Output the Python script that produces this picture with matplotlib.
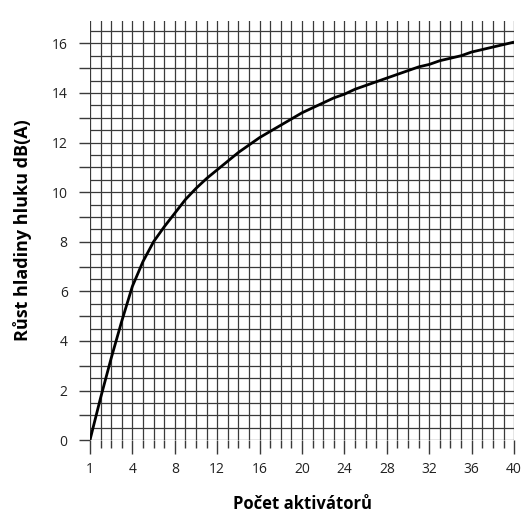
import numpy as np
import matplotlib
matplotlib.use("Agg")
import matplotlib.pyplot as plt

# curve values, one per grid column (position 0..40)
positions = list(range(0, 41))
noise_rise = [0.0, 1.7, 3.3, 4.8, 6.2, 7.2, 8.0, 8.6, 9.15, 9.7,
              10.15, 10.55, 10.9, 11.25, 11.6, 11.9, 12.2, 12.45, 12.7, 12.95,
              13.2, 13.4, 13.6, 13.8, 13.95, 14.15, 14.3, 14.45, 14.6, 14.75,
              14.9, 15.05, 15.15, 15.3, 15.4, 15.5, 15.65, 15.75, 15.85, 15.95,
              16.05]

x_tick_pos = [0, 4, 8, 12, 16, 20, 24, 28, 32, 36, 40]
x_tick_labels = ["1", "4", "8", "12", "16", "20", "24", "28", "32", "36", "40"]
y_ticks = [0, 2, 4, 6, 8, 10, 12, 14, 16]

fig = plt.figure(figsize=(5.23, 5.19), dpi=100)
ax = fig.add_axes([0.172, 0.152, 0.811, 0.8075])

# grid lines
for xv in range(0, 41):
    ax.plot([xv, xv], [0, 16.9], color="#3a3a3a", lw=0.9, zorder=1)
for yv in np.arange(0, 16.51, 0.5):
    ax.plot([0, 40], [yv, yv], color="#3a3a3a", lw=0.9, zorder=1)

ax.plot(positions, noise_rise, color="black", lw=2.0, zorder=3,
        solid_capstyle="butt")

ax.set_xlim(0, 40)
ax.set_ylim(0, 16.9)
for s in ax.spines.values():
    s.set_visible(False)

ax.set_xticks(x_tick_pos)
ax.set_xticklabels(x_tick_labels)
ax.set_xticks(range(0, 41), minor=True)
ax.set_yticks(y_ticks)
ax.set_yticks(range(0, 17), minor=True)

ax.tick_params(axis="x", which="major", length=10, width=1.0, color="#3a3a3a",
               pad=6, labelsize=10, labelcolor="#222222")
ax.tick_params(axis="x", which="minor", length=6, width=1.0, color="#3a3a3a")
ax.tick_params(axis="y", which="both", length=8, width=1.0, color="#3a3a3a",
               pad=8, labelsize=10, labelcolor="#222222")
for lab in ax.get_xticklabels() + ax.get_yticklabels():
    lab.set_family("Open Sans")

ax.set_xlabel("Počet aktivátorů", fontsize=12, fontweight="bold",
              family="Open Sans")
ax.set_ylabel("Růst hladiny hluku dB(A)", fontsize=13, fontweight="bold",
              family="Open Sans")
ax.xaxis.set_label_coords(0.5, -0.132)
ax.yaxis.set_label_coords(-0.137, 0.5)

fig.savefig("out.png", dpi=100)
